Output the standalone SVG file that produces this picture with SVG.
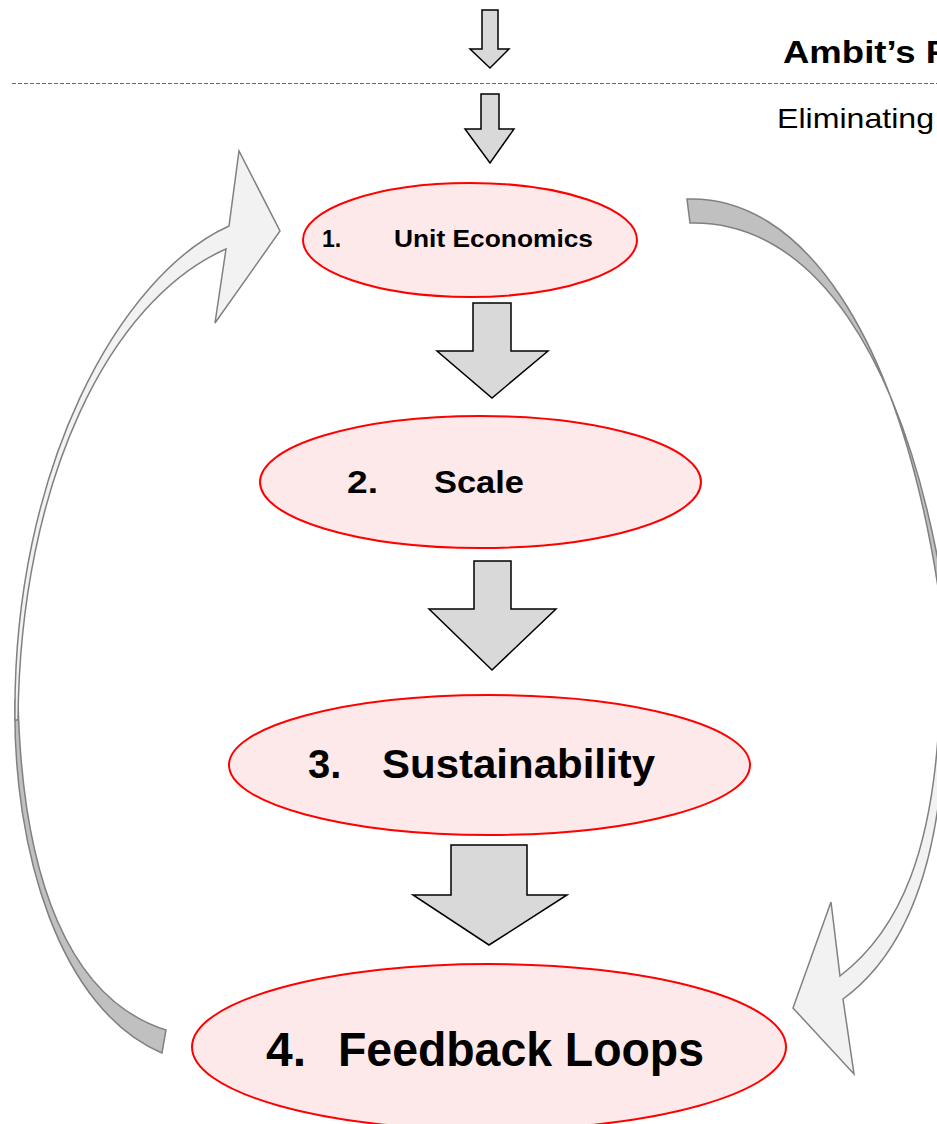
<svg xmlns="http://www.w3.org/2000/svg" width="937" height="1124" viewBox="0 0 937 1124">
<style>
.node{fill:#FDE9E9;stroke:#FF0000;stroke-width:2}
.blk{fill:#D9D9D9;stroke:#000;stroke-width:1.5;stroke-linejoin:miter}
.lt{fill:#F2F2F2;stroke:#808080;stroke-width:1.5;stroke-linejoin:miter}
.dk{fill:#C0C0C0;stroke:#808080;stroke-width:1.5}
.t{font-family:"Liberation Sans",Arial,sans-serif;font-weight:bold;fill:#000}
</style>
<rect width="937" height="1124" fill="#fff"/>
<line x1="12" y1="83.5" x2="937" y2="83.5" stroke="#F03030" stroke-width="1" stroke-dasharray="4,2"/>
<text class="t" x="783" y="63" font-size="31" textLength="165" lengthAdjust="spacingAndGlyphs">Ambit’s F</text>
<text x="777" y="128" font-size="28" font-family="Liberation Sans, Arial, sans-serif" fill="#000" textLength="157" lengthAdjust="spacingAndGlyphs">Eliminating</text>
<g id="connectors">
<path class="blk" d="M482,10 H498 V49 H509 L490,68 L470,49 H482 Z"/>
<path class="blk" d="M481,94 H499 V129 H514 L490,163 L465,129 H481 Z"/>
<path class="blk" d="M473,303 H511 V351 H548 L492,398 L437,351 H473 Z"/>
<path class="blk" d="M474,561 H511 V609 H556 L492,670 L429,609 H474 Z"/>
<path class="blk" d="M451,845 H527 V895 H567 L489,945 L413,895 H451 Z"/>
<path class="dk" d="M15,700 C12,850 60,1010 162,1053 L166,1030 C70,1000 22,880 18,700 Z"/>
<path class="lt" d="M15,720 C12,470 120,275 229,226 L239,151 L280,231 L215,323 L226,249 C110,300 20,480 18,720 Z"/>
<path class="dk" d="M687,199 C800,195 900,330 940,600 L945,600 C905,350 810,220 690,223 Z"/>
<path class="lt" d="M940,700 C935,850 900,930 840,976 L831,902 L793,1008 L854,1074 L843,999 C910,950 945,850 945,700 Z"/>
</g>
<g id="node1">
<ellipse class="node" cx="470" cy="240" rx="167" ry="57"/>
<text class="t" x="322" y="247" font-size="23">1.</text>
<text class="t" x="394" y="247" font-size="23" textLength="199" lengthAdjust="spacingAndGlyphs">Unit Economics</text>
</g>
<g id="node2">
<ellipse class="node" cx="480.5" cy="482" rx="220.5" ry="66"/>
<text class="t" x="347" y="493" font-size="32" textLength="31" lengthAdjust="spacingAndGlyphs">2.</text>
<text class="t" x="434" y="493" font-size="32" textLength="90" lengthAdjust="spacingAndGlyphs">Scale</text>
</g>
<g id="node3">
<ellipse class="node" cx="489.5" cy="765" rx="260.5" ry="70"/>
<text class="t" x="308" y="778" font-size="40">3.</text>
<text class="t" x="382" y="778" font-size="40" textLength="273" lengthAdjust="spacingAndGlyphs">Sustainability</text>
</g>
<g id="node4">
<ellipse class="node" cx="489" cy="1047" rx="297" ry="83"/>
<text class="t" x="266" y="1066" font-size="48">4.</text>
<text class="t" x="338" y="1066" font-size="48" textLength="366" lengthAdjust="spacingAndGlyphs">Feedback Loops</text>
</g>
</svg>
